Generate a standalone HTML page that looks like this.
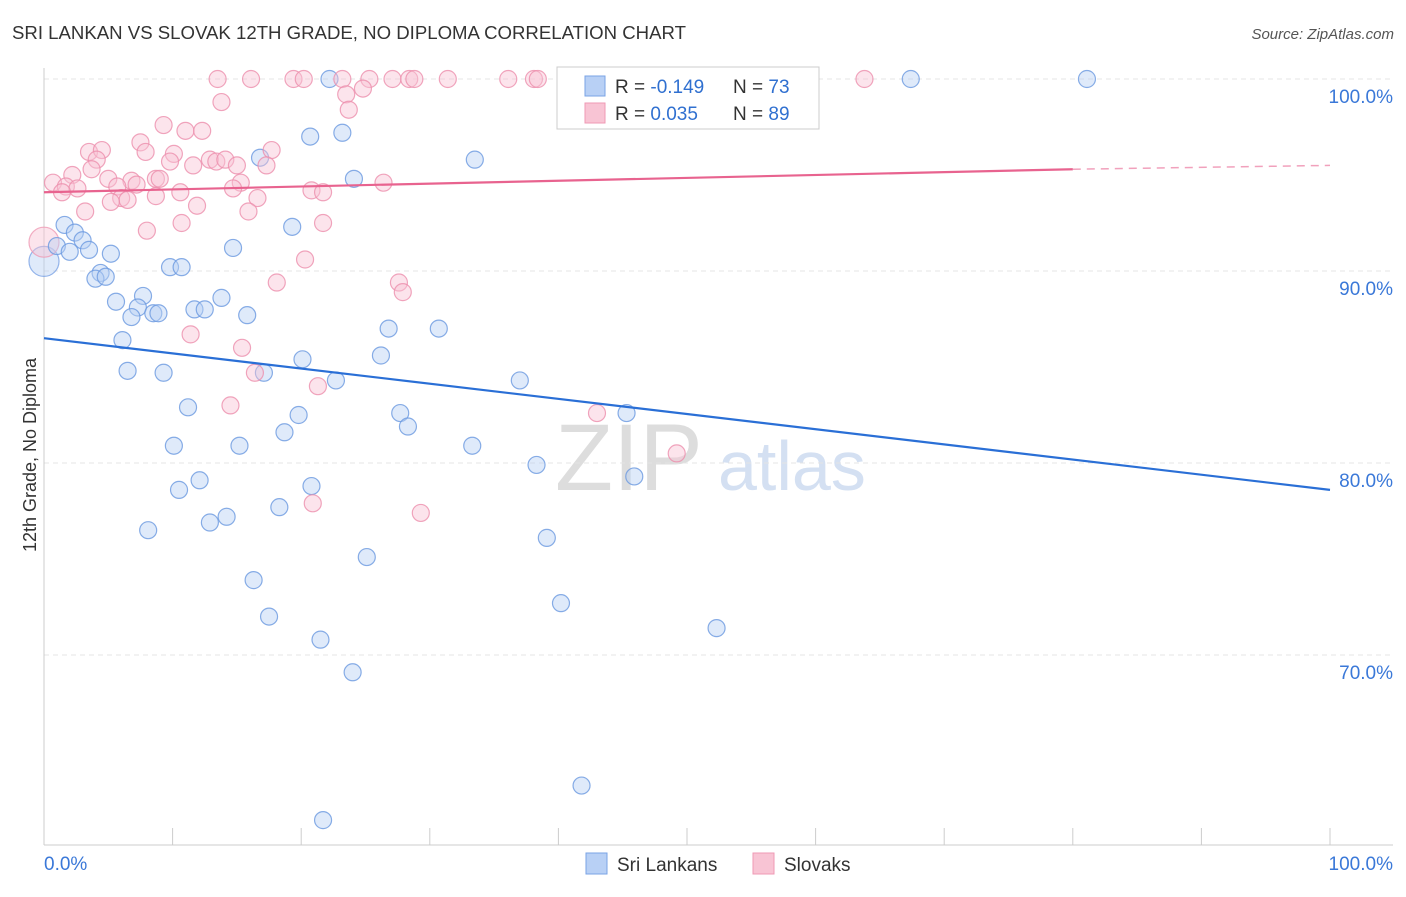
<!DOCTYPE html>
<html><head><meta charset="utf-8"><style>
body{margin:0;background:#fff;font-family:"Liberation Sans",sans-serif}
svg text{font-family:"Liberation Sans",sans-serif}
</style></head><body>
<svg id="c" width="1406" height="892" viewBox="0 0 1406 892">
<text x="12" y="39" font-size="18" fill="#333" textLength="674" lengthAdjust="spacingAndGlyphs">SRI LANKAN VS SLOVAK 12TH GRADE, NO DIPLOMA CORRELATION CHART</text>
<text x="1394" y="39" font-size="15" fill="#555" font-style="italic" text-anchor="end">Source: ZipAtlas.com</text>
<text x="36" y="455" font-size="18" fill="#333" transform="rotate(-90 36 455)" text-anchor="middle">12th Grade, No Diploma</text>
<text x="555" y="490" font-size="95" fill="#ddd" font-family="Liberation Serif">ZIP</text>
<text x="718" y="490" font-size="70" fill="#d4e0f2">atlas</text>
<g id="grid"></g><g id="pts"></g><g id="trend"></g>
<g>
<rect x="557" y="67" width="262" height="62" fill="#fff" stroke="#ccc"/>
<rect x="585" y="76" width="20" height="20" fill="#b8d0f5" stroke="#7aa3e5"/>
<rect x="585" y="103" width="20" height="20" fill="#f8c4d4" stroke="#ef9ab4"/>
<text x="615" y="93" font-size="19" fill="#333">R = <tspan fill="#3070d0">-0.149</tspan></text>
<text x="733" y="93" font-size="19" fill="#333">N = <tspan fill="#3070d0">73</tspan></text>
<text x="615" y="120" font-size="19" fill="#333">R = <tspan fill="#3070d0"> 0.035</tspan></text>
<text x="733" y="120" font-size="19" fill="#333">N = <tspan fill="#3070d0">89</tspan></text>
</g>
<g>
<rect x="586" y="853" width="21" height="21" fill="#b8d0f5" stroke="#7aa3e5"/>
<text x="617" y="871" font-size="19" fill="#333">Sri Lankans</text>
<rect x="753" y="853" width="21" height="21" fill="#f8c4d4" stroke="#ef9ab4"/>
<text x="784" y="871" font-size="19" fill="#333">Slovaks</text>
</g>
<text x="44" y="870" font-size="19" fill="#3a78d8">0.0%</text>
<text x="1393" y="870" font-size="19" fill="#3a78d8" text-anchor="end">100.0%</text>
</svg>
<script>
const yTicks=[100,90,80,70];
const yTickLabels=["100.0%","90.0%","80.0%","70.0%"];
const xTicks=[0,10,20,30,40,50,60,70,80,90,100];
const blueX=[22.2,67.4,81.1,20.7,23.2,33.5,16.8,24.1,19.3,14.7,1.6,2.4,3.0,1.0,2.0,3.5,5.2,4.4,4.0,4.8,9.8,10.7,7.7,5.6,13.8,7.3,11.7,12.5,8.5,8.9,6.8,15.8,26.8,30.7,6.1,26.2,20.1,6.5,9.3,17.1,22.7,37.0,11.2,19.8,27.7,45.3,28.3,18.7,10.1,15.2,33.3,38.3,45.9,20.8,12.1,10.5,14.2,18.3,12.9,8.1,39.1,25.1,16.3,40.2,17.5,52.3,21.5,24.0,41.8,21.7];
const blueY=[100,100,100,97.0,97.2,95.8,95.9,94.8,92.3,91.2,92.4,92.0,91.6,91.3,91.0,91.1,90.9,89.9,89.6,89.7,90.2,90.2,88.7,88.4,88.6,88.1,88.0,88.0,87.8,87.8,87.6,87.7,87.0,87.0,86.4,85.6,85.4,84.8,84.7,84.7,84.3,84.3,82.9,82.5,82.6,82.6,81.9,81.6,80.9,80.9,80.9,79.9,79.3,78.8,79.1,78.6,77.2,77.7,76.9,76.5,76.1,75.1,73.9,72.7,72.0,71.4,70.8,69.1,63.2,61.4];
const pinkX=[13.5,16.1,19.4,20.2,23.2,25.3,27.1,28.4,28.8,31.4,36.1,38.1,38.4,51.8,63.8,13.8,23.5,24.8,23.7,9.3,11.0,12.3,7.5,7.9,3.5,4.5,10.1,17.7,4.1,12.9,13.4,11.6,14.1,9.8,15.0,17.3,3.7,5.0,2.2,0.7,1.7,2.6,6.8,5.7,8.7,9.0,7.2,15.3,26.4,14.7,20.8,21.7,10.6,8.7,1.4,6.0,6.5,5.2,16.6,11.9,15.9,3.2,10.7,8.0,21.7,20.3,18.1,27.6,27.9,11.4,15.4,16.4,21.3,14.5,43.0,49.2,20.9,29.3];
const pinkY=[100,100,100,100,100,100,100,100,100,100,100,100,100,100,100,98.8,99.2,99.5,98.4,97.6,97.3,97.3,96.7,96.2,96.2,96.3,96.1,96.3,95.8,95.8,95.7,95.5,95.8,95.7,95.5,95.5,95.3,94.8,95.0,94.6,94.4,94.3,94.7,94.4,94.8,94.8,94.5,94.6,94.6,94.3,94.2,94.1,94.1,93.9,94.1,93.8,93.7,93.6,93.8,93.4,93.1,93.1,92.5,92.1,92.5,90.6,89.4,89.4,88.9,86.7,86.0,84.7,84.0,83.0,82.6,80.5,77.9,77.4];
const bigBlue=[0,90.5], bigPink=[0,91.5];
const blueTrend=[0,86.5,100,78.6];
const pinkTrend=[0,94.1,80,95.3,100,95.5];
const X=v=>44+v*12.86, Y=v=>79+(100-v)*19.2;
const NS="http://www.w3.org/2000/svg";
function mk(t,a,p){const e=document.createElementNS(NS,t);for(const k in a)e.setAttribute(k,a[k]);p.appendChild(e);return e;}
const g=document.getElementById('grid');
yTicks.forEach((t,i)=>{
 const l=mk('line',{x1:44,x2:1393,y1:Y(t),y2:Y(t),stroke:'#e4e4e4','stroke-dasharray':'5,4'},g);
 
 
 const tx=mk('text',{x:1393,y:Y(t)+24,'font-size':19,fill:'#3a78d8','text-anchor':'end'},g);
 tx.textContent=yTickLabels[i];
 
 
});
mk('line',{x1:44,x2:44,y1:68,y2:845,stroke:'#ccc'},g);
mk('line',{x1:44,x2:1393,y1:845,y2:845,stroke:'#ccc'},g);
xTicks.forEach(t=>{
 const l=mk('line',{x1:X(t),x2:X(t),y1:828,y2:845,stroke:'#ccc'},g);
 
 
});
const p=document.getElementById('pts');
function dot(x,y,r,f,s,n){const c=mk('circle',{cx:X(x),cy:Y(y),r:r,fill:f,'fill-opacity':0.45,stroke:s,'stroke-opacity':0.8,'stroke-width':1.2},p);
 
 }
dot(bigBlue[0],bigBlue[1],15,'#b8d0f5','#7aa3e5','point-sri-lankan-large');
dot(bigPink[0],bigPink[1],15,'#f8c4d4','#ef9ab4','point-slovak-large');
blueX.forEach((x,i)=>dot(x,blueY[i],8.5,'#b8d0f5','#6a98e0','point-sri-lankan'));
pinkX.forEach((x,i)=>dot(x,pinkY[i],8.5,'#f8c4d4','#ec8fad','point-slovak'));
const tr=document.getElementById('trend');
let l=mk('line',{x1:X(blueTrend[0]),y1:Y(blueTrend[1]),x2:X(blueTrend[2]),y2:Y(blueTrend[3]),stroke:'#2a6fd6','stroke-width':2.2},tr);


l=mk('line',{x1:X(pinkTrend[0]),y1:Y(pinkTrend[1]),x2:X(pinkTrend[2]),y2:Y(pinkTrend[3]),stroke:'#e8638f','stroke-width':2.2},tr);


l=mk('line',{x1:X(pinkTrend[2]),y1:Y(pinkTrend[3]),x2:X(pinkTrend[4]),y2:Y(pinkTrend[5]),stroke:'#e8638f','stroke-width':1.5,'stroke-dasharray':'8,6','stroke-opacity':0.6},tr);


</script>
</body></html>
